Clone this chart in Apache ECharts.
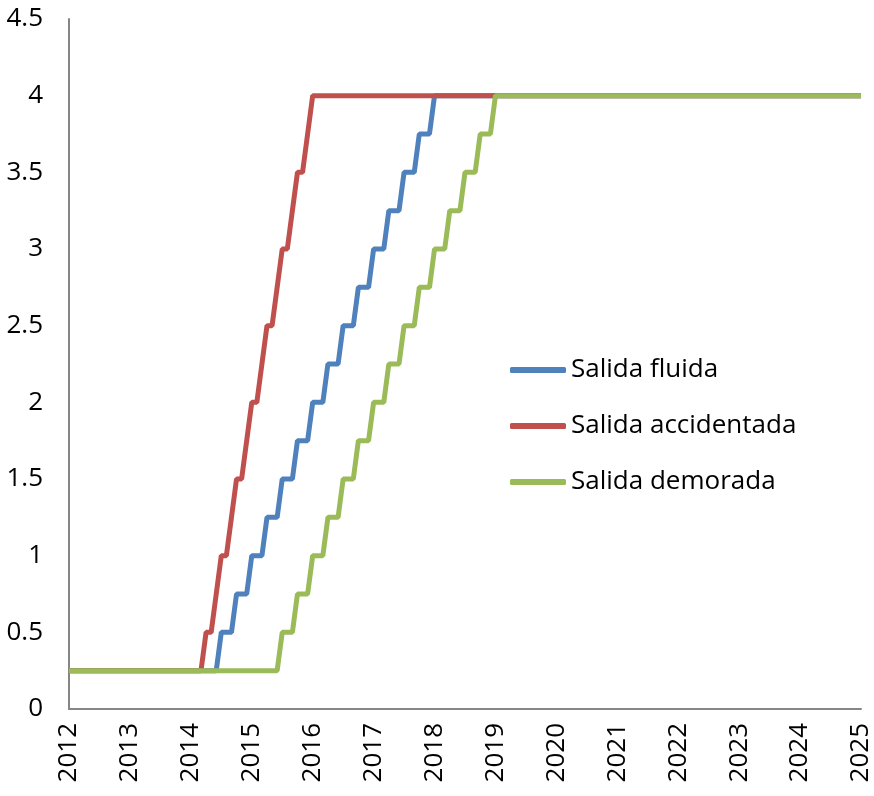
<!DOCTYPE html>
<html>
<head>
<meta charset="utf-8">
<script src="https://cdn.jsdelivr.net/npm/echarts@6/dist/echarts.min.js"></script>
<style>
html,body{margin:0;padding:0;background:#fff;}
#chart{width:874px;height:796px;}
</style>
</head>
<body>
<div id="chart"></div>
<script>
// Year tick labels (one category per month, Jan 2012 .. Jan 2025)
const years = ['2012','2013','2014','2015','2016','2017','2018','2019','2020','2021','2022','2023','2024','2025'];
const seriesNames = ['Salida fluida','Salida accidentada','Salida demorada'];

// Monthly values, one row per year
const fluida = [
  0.25,0.25,0.25,0.25,0.25,0.25,0.25,0.25,0.25,0.25,0.25,0.25,
  0.25,0.25,0.25,0.25,0.25,0.25,0.25,0.25,0.25,0.25,0.25,0.25,
  0.25,0.25,0.25,0.25,0.25,0.25,0.5,0.5,0.5,0.75,0.75,0.75,
  1,1,1,1.25,1.25,1.25,1.5,1.5,1.5,1.75,1.75,1.75,
  2,2,2,2.25,2.25,2.25,2.5,2.5,2.5,2.75,2.75,2.75,
  3,3,3,3.25,3.25,3.25,3.5,3.5,3.5,3.75,3.75,3.75,
  4,4,4,4,4,4,4,4,4,4,4,4,
  4,4,4,4,4,4,4,4,4,4,4,4,
  4,4,4,4,4,4,4,4,4,4,4,4,
  4,4,4,4,4,4,4,4,4,4,4,4,
  4,4,4,4,4,4,4,4,4,4,4,4,
  4,4,4,4,4,4,4,4,4,4,4,4,
  4,4,4,4,4,4,4,4,4,4,4,4,
  4
];
const accidentada = [
  0.25,0.25,0.25,0.25,0.25,0.25,0.25,0.25,0.25,0.25,0.25,0.25,
  0.25,0.25,0.25,0.25,0.25,0.25,0.25,0.25,0.25,0.25,0.25,0.25,
  0.25,0.25,0.25,0.5,0.5,0.75,1,1,1.25,1.5,1.5,1.75,
  2,2,2.25,2.5,2.5,2.75,3,3,3.25,3.5,3.5,3.75,
  4,4,4,4,4,4,4,4,4,4,4,4,
  4,4,4,4,4,4,4,4,4,4,4,4,
  4,4,4,4,4,4,4,4,4,4,4,4,
  4,4,4,4,4,4,4,4,4,4,4,4,
  4,4,4,4,4,4,4,4,4,4,4,4,
  4,4,4,4,4,4,4,4,4,4,4,4,
  4,4,4,4,4,4,4,4,4,4,4,4,
  4,4,4,4,4,4,4,4,4,4,4,4,
  4,4,4,4,4,4,4,4,4,4,4,4,
  4
];
const demorada = [
  0.25,0.25,0.25,0.25,0.25,0.25,0.25,0.25,0.25,0.25,0.25,0.25,
  0.25,0.25,0.25,0.25,0.25,0.25,0.25,0.25,0.25,0.25,0.25,0.25,
  0.25,0.25,0.25,0.25,0.25,0.25,0.25,0.25,0.25,0.25,0.25,0.25,
  0.25,0.25,0.25,0.25,0.25,0.25,0.5,0.5,0.5,0.75,0.75,0.75,
  1,1,1,1.25,1.25,1.25,1.5,1.5,1.5,1.75,1.75,1.75,
  2,2,2,2.25,2.25,2.25,2.5,2.5,2.5,2.75,2.75,2.75,
  3,3,3,3.25,3.25,3.25,3.5,3.5,3.5,3.75,3.75,3.75,
  4,4,4,4,4,4,4,4,4,4,4,4,
  4,4,4,4,4,4,4,4,4,4,4,4,
  4,4,4,4,4,4,4,4,4,4,4,4,
  4,4,4,4,4,4,4,4,4,4,4,4,
  4,4,4,4,4,4,4,4,4,4,4,4,
  4,4,4,4,4,4,4,4,4,4,4,4,
  4
];

// monthly category table built from the year labels
const months = [];
years.forEach((y, yi) => {
  const n = yi === years.length - 1 ? 1 : 12;
  for (let m = 0; m < n; m++) months.push(y + '-' + String(m + 1).padStart(2, '0'));
});

const FONT = 'Open Sans';
const colors = ['#4F81BD', '#C0504D', '#9BBB59'];
const chart = echarts.init(document.getElementById('chart'), null, {renderer: 'canvas'});
chart.setOption({
  animation: false,
  color: colors,
  grid: {left: 69, right: 9, top: 19, bottom: 87, containLabel: false},
  legend: {
    orient: 'vertical',
    left: 505,
    top: 350,
    icon: 'roundRect',
    itemWidth: 56,
    itemHeight: 6,
    itemGap: 26,
    textStyle: {fontFamily: FONT, fontSize: 26, color: '#000', lineHeight: 30},
    data: seriesNames
  },
  xAxis: {
    type: 'category',
    data: months,
    boundaryGap: false,
    axisLine: {show: true, lineStyle: {color: '#868686', width: 2}},
    axisTick: {show: false},
    splitLine: {show: false},
    axisLabel: {
      rotate: 90,
      margin: 14,
      fontFamily: FONT,
      fontSize: 26,
      color: '#000',
      interval: (i) => i % 12 === 0,
      formatter: (v) => v.slice(0, 4)
    }
  },
  yAxis: {
    type: 'value',
    min: 0,
    max: 4.5,
    interval: 0.5,
    axisLine: {show: true, lineStyle: {color: '#868686', width: 2}},
    axisTick: {show: false},
    splitLine: {show: false},
    axisLabel: {margin: 26, fontFamily: FONT, fontSize: 26, color: '#000'}
  },
  series: [
    {name: seriesNames[0], type: 'line', data: fluida, showSymbol: false, symbol: 'none', lineStyle: {width: 5, color: colors[0]}},
    {name: seriesNames[1], type: 'line', data: accidentada, showSymbol: false, symbol: 'none', lineStyle: {width: 5, color: colors[1]}},
    {name: seriesNames[2], type: 'line', data: demorada, showSymbol: false, symbol: 'none', lineStyle: {width: 5, color: colors[2]}}
  ]
});
</script>
</body>
</html>
